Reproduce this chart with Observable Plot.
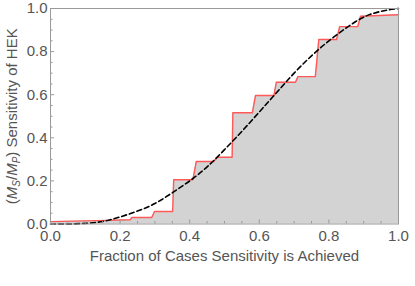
<!DOCTYPE html>
<html><head><meta charset="utf-8">
<script src="https://cdn.jsdelivr.net/npm/d3@7"></script>
<script src="https://cdn.jsdelivr.net/npm/@observablehq/plot@0.6"></script>
<style>body{margin:0;background:#fff} svg{display:block}</style>
</head><body><div id="chart"></div>
<script>
// Empirical sensitivity curve (red step polyline)
const stepX = [0, 0.165, 0.229, 0.234, 0.291, 0.299, 0.351, 0.354, 0.409, 0.419, 0.469, 0.479, 0.522, 0.524, 0.58, 0.589, 0.642, 0.649, 0.704, 0.711, 0.761, 0.771, 0.822, 0.831, 0.883, 0.891, 1.0];
const stepY = [0.011, 0.017, 0.020, 0.030, 0.030, 0.058, 0.058, 0.205, 0.205, 0.290, 0.290, 0.310, 0.310, 0.516, 0.516, 0.596, 0.596, 0.658, 0.658, 0.684, 0.684, 0.856, 0.856, 0.916, 0.916, 0.964, 0.971];
// Fitted curve (dashed)
const fitX = [0, 0.05, 0.1, 0.15, 0.2, 0.25, 0.3, 0.35, 0.4, 0.45, 0.5, 0.55, 0.6, 0.65, 0.7, 0.75, 0.8, 0.85, 0.9, 0.95, 1.0];
const fitY = [0, 0.0, 0.003, 0.012, 0.033, 0.06, 0.095, 0.145, 0.2, 0.265, 0.345, 0.43, 0.52, 0.61, 0.7, 0.78, 0.85, 0.91, 0.96, 0.987, 1.0];
const ticksMajor = [0, 0.2, 0.4, 0.6, 0.8, 1.0];
const ticksMinor = [0.05, 0.1, 0.15, 0.25, 0.3, 0.35, 0.45, 0.5, 0.55, 0.65, 0.7, 0.75, 0.85, 0.9, 0.95];
const xLabel = "Fraction of Cases Sensitivity is Achieved";
const yLabel = "Sensitivity of HEK";

const W = 415, H = 286, mt = 8, mb = 62.5, ml = 50, mr = 17;
const innerW = W - ml - mr, innerH = H - mt - mb;
const steps = stepX.map((x, i) => ({x, y: stepY[i]}));
const fit = fitX.map((x, i) => ({x, y: fitY[i]}));
const axisColor = "#9a9a9a";

const chart = Plot.plot({
  width: W, height: H, marginTop: mt, marginBottom: mb, marginLeft: ml, marginRight: mr,
  style: {fontFamily: "'Liberation Sans', Arial, sans-serif", fontSize: "15px", color: "#555", background: "#fff"},
  x: {domain: [0, 1]},
  y: {domain: [0, 1]},
  marks: [
    Plot.areaY(steps, {x: "x", y: "y", fill: "#d3d3d3"}),
    Plot.line(steps, {x: "x", y: "y", stroke: "#ff5a5a", strokeWidth: 1.4}),
    Plot.line(fit, {x: "x", y: "y", stroke: "#000", strokeWidth: 1.6, strokeDasharray: "5,3", curve: "natural"}),
    Plot.tickX(ticksMinor, {x: d => d, stroke: axisColor, insetTop: innerH - 2.5}),
    Plot.tickX(ticksMajor, {x: d => d, stroke: axisColor, insetTop: innerH - 4}),
    Plot.tickY(ticksMinor, {y: d => d, stroke: axisColor, insetRight: innerW - 2.5}),
    Plot.tickY(ticksMajor, {y: d => d, stroke: axisColor, insetRight: innerW - 4}),
    Plot.frame({stroke: axisColor}),
    Plot.axisX(ticksMajor, {tickSize: 0, tickPadding: 6, tickFormat: d3.format(".1f"), label: xLabel, labelAnchor: "center", labelArrow: "none", labelOffset: 37}),
    Plot.axisY(ticksMajor, {tickSize: 0, tickPadding: 3, tickFormat: d3.format(".1f"), label: yLabel, labelAnchor: "center", labelArrow: "none", labelOffset: 44})
  ]
});
document.getElementById("chart").appendChild(chart);

// Rich y-axis label: (M_S/M_P) Sensitivity of HEK
const yl = chart.querySelector('g[aria-label="y-axis label"] text');
if (yl) {
  yl.textContent = "";
  const ns = "http://www.w3.org/2000/svg";
  const parts = [
    ["(", {}], ["M", {"font-style": "italic"}], ["S", {"font-style": "italic", "font-size": "10", dy: "3"}],
    ["/", {dy: "-3"}], ["M", {"font-style": "italic"}], ["P", {"font-style": "italic", "font-size": "10", dy: "3"}],
    [") " + yLabel, {dy: "-3"}]
  ];
  for (const [t, attrs] of parts) {
    const ts = document.createElementNS(ns, "tspan");
    for (const k in attrs) ts.setAttribute(k, attrs[k]);
    ts.textContent = t;
    yl.appendChild(ts);
  }
}
</script>
</body></html>
